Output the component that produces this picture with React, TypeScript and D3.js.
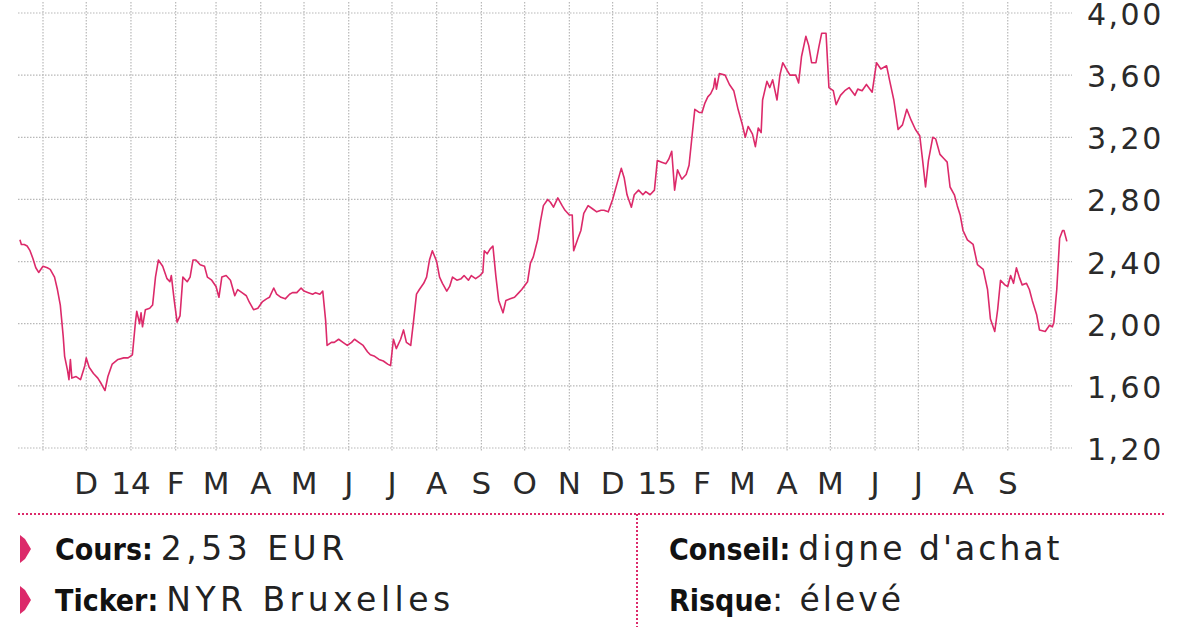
import React from "react";
import * as d3 from "d3";

// ---- Data ----
const priceSeries: [string, number][] = [
  ["2013-10-16", 2.54], ["2013-10-17", 2.51], ["2013-10-19", 2.51], ["2013-10-21", 2.50],
  ["2013-10-23", 2.47], ["2013-10-25", 2.42], ["2013-10-27", 2.36], ["2013-10-29", 2.33],
  ["2013-11-01", 2.37], ["2013-11-04", 2.36], ["2013-11-06", 2.35], ["2013-11-09", 2.30],
  ["2013-11-11", 2.22], ["2013-11-13", 2.12], ["2013-11-15", 1.92], ["2013-11-16", 1.79],
  ["2013-11-18", 1.70], ["2013-11-19", 1.64], ["2013-11-20", 1.77], ["2013-11-21", 1.65],
  ["2013-11-24", 1.66], ["2013-11-27", 1.64], ["2013-11-30", 1.73],
  ["2013-12-01", 1.78], ["2013-12-03", 1.72], ["2013-12-06", 1.68], ["2013-12-09", 1.65],
  ["2013-12-11", 1.62], ["2013-12-14", 1.57], ["2013-12-16", 1.66], ["2013-12-19", 1.74],
  ["2013-12-23", 1.77], ["2013-12-27", 1.78], ["2013-12-30", 1.78],
  ["2014-01-02", 1.80], ["2014-01-04", 2.00], ["2014-01-05", 2.08], ["2014-01-07", 2.00],
  ["2014-01-08", 2.07], ["2014-01-09", 1.98], ["2014-01-11", 2.09], ["2014-01-14", 2.10],
  ["2014-01-16", 2.12], ["2014-01-18", 2.30], ["2014-01-20", 2.41], ["2014-01-23", 2.37],
  ["2014-01-26", 2.29], ["2014-01-28", 2.27], ["2014-01-29", 2.31], ["2014-01-31", 2.15],
  ["2014-02-02", 2.01], ["2014-02-04", 2.05], ["2014-02-06", 2.30], ["2014-02-09", 2.27],
  ["2014-02-11", 2.30], ["2014-02-13", 2.41], ["2014-02-15", 2.41], ["2014-02-18", 2.38],
  ["2014-02-21", 2.37], ["2014-02-23", 2.30], ["2014-02-26", 2.28],
  ["2014-03-01", 2.24], ["2014-03-03", 2.17], ["2014-03-05", 2.30], ["2014-03-08", 2.31],
  ["2014-03-11", 2.28], ["2014-03-14", 2.18], ["2014-03-16", 2.22], ["2014-03-19", 2.20],
  ["2014-03-22", 2.18], ["2014-03-24", 2.14], ["2014-03-27", 2.09], ["2014-03-30", 2.10],
  ["2014-04-02", 2.14], ["2014-04-05", 2.16], ["2014-04-07", 2.17], ["2014-04-10", 2.23],
  ["2014-04-12", 2.19], ["2014-04-15", 2.17], ["2014-04-18", 2.16], ["2014-04-21", 2.19],
  ["2014-04-23", 2.20], ["2014-04-26", 2.20], ["2014-04-29", 2.23],
  ["2014-05-01", 2.21], ["2014-05-04", 2.20], ["2014-05-07", 2.19], ["2014-05-09", 2.20],
  ["2014-05-12", 2.19], ["2014-05-14", 2.21], ["2014-05-16", 2.02], ["2014-05-17", 1.86],
  ["2014-05-20", 1.88], ["2014-05-22", 1.88], ["2014-05-25", 1.90], ["2014-05-28", 1.88],
  ["2014-05-31", 1.86],
  ["2014-06-03", 1.88], ["2014-06-05", 1.90], ["2014-06-08", 1.88], ["2014-06-11", 1.86],
  ["2014-06-14", 1.82], ["2014-06-16", 1.80], ["2014-06-19", 1.79], ["2014-06-22", 1.77],
  ["2014-06-25", 1.76], ["2014-06-28", 1.74], ["2014-06-30", 1.73],
  ["2014-07-02", 1.90], ["2014-07-04", 1.84], ["2014-07-07", 1.90], ["2014-07-09", 1.96],
  ["2014-07-11", 1.88], ["2014-07-14", 1.86], ["2014-07-16", 2.02], ["2014-07-18", 2.19],
  ["2014-07-20", 2.22], ["2014-07-23", 2.26], ["2014-07-25", 2.30], ["2014-07-27", 2.41],
  ["2014-07-29", 2.47],
  ["2014-08-01", 2.40], ["2014-08-03", 2.30], ["2014-08-05", 2.26], ["2014-08-08", 2.21],
  ["2014-08-10", 2.24], ["2014-08-12", 2.30], ["2014-08-15", 2.28], ["2014-08-18", 2.29],
  ["2014-08-20", 2.31], ["2014-08-23", 2.28], ["2014-08-25", 2.31], ["2014-08-28", 2.29],
  ["2014-08-31", 2.31],
  ["2014-09-02", 2.33], ["2014-09-03", 2.47], ["2014-09-05", 2.45], ["2014-09-07", 2.48],
  ["2014-09-09", 2.50], ["2014-09-11", 2.31], ["2014-09-13", 2.15], ["2014-09-16", 2.07],
  ["2014-09-18", 2.15], ["2014-09-21", 2.16], ["2014-09-24", 2.17], ["2014-09-27", 2.20],
  ["2014-09-29", 2.22],
  ["2014-10-03", 2.27], ["2014-10-05", 2.39], ["2014-10-07", 2.43], ["2014-10-10", 2.54],
  ["2014-10-12", 2.66], ["2014-10-14", 2.76], ["2014-10-17", 2.80], ["2014-10-19", 2.78],
  ["2014-10-21", 2.75], ["2014-10-24", 2.81], ["2014-10-27", 2.76], ["2014-10-29", 2.73],
  ["2014-11-01", 2.70], ["2014-11-03", 2.70], ["2014-11-04", 2.47], ["2014-11-07", 2.55],
  ["2014-11-09", 2.60], ["2014-11-11", 2.71], ["2014-11-14", 2.76], ["2014-11-17", 2.74],
  ["2014-11-20", 2.72], ["2014-11-23", 2.73], ["2014-11-25", 2.73], ["2014-11-28", 2.72],
  ["2014-12-01", 2.80], ["2014-12-04", 2.90], ["2014-12-07", 3.00], ["2014-12-09", 2.94],
  ["2014-12-11", 2.83], ["2014-12-14", 2.75], ["2014-12-16", 2.83], ["2014-12-19", 2.86],
  ["2014-12-22", 2.83], ["2014-12-24", 2.85], ["2014-12-27", 2.83], ["2014-12-30", 2.86],
  ["2015-01-01", 3.05], ["2015-01-04", 3.04], ["2015-01-07", 3.03], ["2015-01-09", 3.06],
  ["2015-01-11", 3.11], ["2015-01-13", 2.86], ["2015-01-15", 2.99], ["2015-01-18", 2.93],
  ["2015-01-21", 2.96], ["2015-01-23", 3.02], ["2015-01-25", 3.20], ["2015-01-27", 3.38],
  ["2015-01-30", 3.36],
  ["2015-02-01", 3.36], ["2015-02-03", 3.42], ["2015-02-05", 3.46], ["2015-02-07", 3.48],
  ["2015-02-09", 3.52], ["2015-02-10", 3.58], ["2015-02-11", 3.51], ["2015-02-13", 3.61],
  ["2015-02-17", 3.60], ["2015-02-20", 3.54], ["2015-02-23", 3.50], ["2015-02-26", 3.38],
  ["2015-03-01", 3.28], ["2015-03-03", 3.20], ["2015-03-05", 3.27], ["2015-03-08", 3.22],
  ["2015-03-10", 3.14], ["2015-03-12", 3.26], ["2015-03-14", 3.23], ["2015-03-15", 3.44],
  ["2015-03-18", 3.56], ["2015-03-20", 3.52], ["2015-03-22", 3.57], ["2015-03-25", 3.44],
  ["2015-03-27", 3.60], ["2015-03-29", 3.68],
  ["2015-04-01", 3.63], ["2015-04-03", 3.60], ["2015-04-07", 3.60], ["2015-04-09", 3.55],
  ["2015-04-11", 3.72], ["2015-04-14", 3.85], ["2015-04-16", 3.79], ["2015-04-18", 3.68],
  ["2015-04-21", 3.68], ["2015-04-23", 3.78], ["2015-04-25", 3.87], ["2015-04-28", 3.87],
  ["2015-04-30", 3.52],
  ["2015-05-03", 3.50], ["2015-05-05", 3.41], ["2015-05-08", 3.47], ["2015-05-11", 3.50],
  ["2015-05-14", 3.52], ["2015-05-18", 3.47], ["2015-05-20", 3.51], ["2015-05-23", 3.50],
  ["2015-05-26", 3.54], ["2015-05-30", 3.49],
  ["2015-06-02", 3.68], ["2015-06-05", 3.64], ["2015-06-09", 3.66], ["2015-06-11", 3.57],
  ["2015-06-14", 3.44], ["2015-06-17", 3.25], ["2015-06-20", 3.28], ["2015-06-23", 3.38],
  ["2015-06-26", 3.31], ["2015-06-29", 3.25],
  ["2015-07-02", 3.21], ["2015-07-04", 3.05], ["2015-07-06", 2.88], ["2015-07-08", 3.05],
  ["2015-07-11", 3.20], ["2015-07-13", 3.19], ["2015-07-16", 3.09], ["2015-07-19", 3.06],
  ["2015-07-21", 3.04], ["2015-07-23", 2.88], ["2015-07-26", 2.83], ["2015-07-28", 2.76],
  ["2015-07-30", 2.70],
  ["2015-08-01", 2.60], ["2015-08-04", 2.54], ["2015-08-08", 2.51], ["2015-08-11", 2.38],
  ["2015-08-15", 2.35], ["2015-08-18", 2.22], ["2015-08-20", 2.03], ["2015-08-23", 1.95],
  ["2015-08-25", 2.09], ["2015-08-27", 2.28], ["2015-08-30", 2.25],
  ["2015-09-01", 2.24], ["2015-09-03", 2.31], ["2015-09-05", 2.26], ["2015-09-07", 2.36],
  ["2015-09-09", 2.30], ["2015-09-11", 2.25], ["2015-09-14", 2.26], ["2015-09-16", 2.22],
  ["2015-09-18", 2.15], ["2015-09-21", 2.06], ["2015-09-23", 1.96], ["2015-09-27", 1.95],
  ["2015-09-30", 1.99],
  ["2015-10-02", 1.98], ["2015-10-03", 2.01], ["2015-10-05", 2.22], ["2015-10-07", 2.55],
  ["2015-10-09", 2.60], ["2015-10-10", 2.60], ["2015-10-12", 2.53],
];

const yTicks = [1.2, 1.6, 2.0, 2.4, 2.8, 3.2, 3.6, 4.0];
const monthLabels = ["D", "14", "F", "M", "A", "M", "J", "J", "A", "S", "O", "N",
  "D", "15", "F", "M", "A", "M", "J", "J", "A", "S"];
const monthLabelStarts = ["2013-12-01", "2014-01-01", "2014-02-01", "2014-03-01", "2014-04-01",
  "2014-05-01", "2014-06-01", "2014-07-01", "2014-08-01", "2014-09-01", "2014-10-01",
  "2014-11-01", "2014-12-01", "2015-01-01", "2015-02-01", "2015-03-01", "2015-04-01",
  "2015-05-01", "2015-06-01", "2015-07-01", "2015-08-01", "2015-09-01"];
const infoLeft = [
  { label: "Cours:", value: "2,53 EUR" },
  { label: "Ticker:", value: "NYR Bruxelles" },
];
const infoRight = [
  { label: "Conseil:", value: "digne d'achat" },
  { label: "Risque", value: ": élevé" },
];

const W = 1200;
const H = 627;
const PINK = "#dc2a6a";
const GRID = "#b8b8b8";

export default function App() {
  const parse = d3.timeParse("%Y-%m-%d");
  const data = priceSeries.map(([d, v]) => ({ date: parse(d) as Date, value: v }));

  const x = d3.scaleTime()
    .domain([new Date(2013, 10, 1), new Date(2015, 9, 1)])
    .range([43, 1051]);
  const y = d3.scaleLinear().domain([1.2, 4.0]).range([448, 13]);

  const line = d3.line<{ date: Date; value: number }>()
    .x((d) => x(d.date))
    .y((d) => y(d.value))
    .curve(d3.curveLinear);

  const gridMonths = d3.timeMonth.range(new Date(2013, 10, 1), new Date(2015, 9, 2));
  const fmt = (v: number) => v.toFixed(2).replace(".", ",");
  const font = "'DejaVu Sans', sans-serif";
  const boldFont = "'DejaVu Sans Condensed', 'DejaVu Sans', sans-serif";

  const infoRow = (row: { label: string; value: string }, x0: number, by: number,
    gap: number, ls: number, key: string) => (
    <text key={key} x={x0} y={by} fontFamily={font} fontSize={33} fill="#222">
      <tspan fontFamily={boldFont} fontSize={30} fontWeight={700} fill="#111">{row.label}</tspan>
      <tspan dx={gap} letterSpacing={ls}>{row.value}</tspan>
    </text>
  );

  return (
    <svg width={W} height={H} viewBox={`0 0 ${W} ${H}`}
      style={{ position: "absolute", left: 0, top: 0, background: "#fff" }}>
      <rect x={0} y={0} width={W} height={H} fill="#fff" />
      {/* horizontal grid */}
      {yTicks.map((t) => (
        <line key={"h" + t} x1={18} x2={1072} y1={y(t)} y2={y(t)}
          stroke={GRID} strokeWidth={1.2} strokeDasharray="1.5,1.5" />
      ))}
      {/* vertical grid */}
      {gridMonths.map((m) => (
        <line key={"v" + m.getTime()} x1={x(m)} x2={x(m)} y1={2} y2={452}
          stroke={GRID} strokeWidth={1.2} strokeDasharray="1.5,1.5" />
      ))}
      {/* y labels */}
      {yTicks.map((t) => (
        <text key={"yl" + t} x={1087} y={y(t) + 12} fontFamily={font} fontSize={30}
          letterSpacing={2.5} fill="#2a2a2a">{fmt(t)}</text>
      ))}
      {/* x labels */}
      {monthLabels.map((l, i) => (
        <text key={"xl" + i} x={x(parse(monthLabelStarts[i]) as Date)} y={494}
          textAnchor="middle" fontFamily={font} fontSize={31} fill="#2a2a2a">{l}</text>
      ))}
      {/* price line */}
      <path d={line(data) || ""} fill="none" stroke={PINK} strokeWidth={1.6}
        strokeLinejoin="round" />

      {/* info box separators */}
      <line x1={18} x2={1165} y1={514} y2={514} stroke={PINK} strokeWidth={2}
        strokeDasharray="2,2" />
      <line x1={637} x2={637} y1={514} y2={627} stroke={PINK} strokeWidth={2}
        strokeDasharray="2,2" />

      {infoLeft.map((row, i) => {
        const by = 560 + i * 51;
        return (
          <g key={"il" + i}>
            <path d={`M20,${by - 25} L25,${by - 21} L31,${by - 11} L25,${by - 1} L20,${by + 3} Z`}
              fill={PINK} />
            {infoRow(row, 55, by, 8, 4.5, "ilt" + i)}
          </g>
        );
      })}
      {infoRight.map((row, i) => infoRow(row, 669, 560 + i * 51, i === 0 ? 8 : 0, 3, "ir" + i))}
    </svg>
  );
}
